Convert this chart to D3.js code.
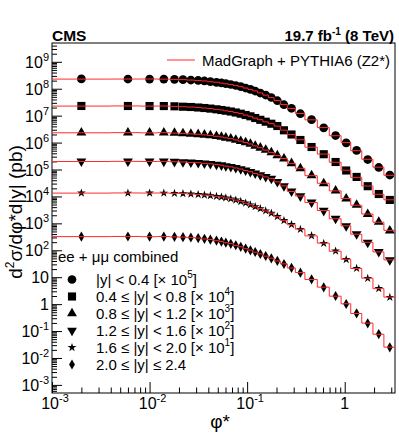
<!DOCTYPE html>
<html>
<head>
<meta charset="utf-8">
<script src="https://cdn.jsdelivr.net/npm/d3@7"></script>
<style>
  body { margin: 0; background: #fff; }
  text { font-family: "Liberation Sans", Arial, Helvetica, sans-serif; fill: #000; }
</style>
</head>
<body>
<script>
// phi* bin edges
const phiEdges = [0, 0.004, 0.008, 0.012, 0.016, 0.020, 0.024, 0.029, 0.034, 0.039, 0.045,
  0.052, 0.057, 0.064, 0.072, 0.081, 0.091, 0.102, 0.114, 0.128, 0.145, 0.165, 0.189,
  0.219, 0.258, 0.312, 0.391, 0.524, 0.695, 0.918, 1.153, 1.496, 1.947, 2.522, 3.277];

// measured cross sections (pb), before scaling
const dataY04 = [2310, 2295, 2290, 2280, 2245, 2170, 2110, 2025, 1940, 1830, 1735, 1635, 1540, 1437, 1320, 1190, 1065, 953, 824, 694, 585, 473, 359, 255, 188, 118, 70.8, 35.4, 18.3, 9.8, 5.1, 2.35, 1.19, 0.625];
const dataY08 = [2290, 2285, 2280, 2275, 2226, 2151, 2097, 2009, 1925, 1829, 1722, 1623, 1528, 1427, 1310, 1182, 1058, 946, 818, 702, 596, 502, 413, 286, 200, 125, 68.5, 37.0, 19.0, 9.2, 5.3, 2.4, 1.23, 0.74];
const dataY12 = [2335, 2330, 2325, 2320, 2269, 2192, 2118, 2030, 1945, 1831, 1726, 1612, 1505, 1393, 1268, 1134, 1007, 885, 759, 640, 530, 428, 331, 252, 170, 109, 59.8, 30.2, 16.4, 8.2, 4.8, 2.18, 1.12, 0.54];
const dataY16 = [1999, 1995, 2000, 1990, 1948, 1899, 1835, 1774, 1699, 1614, 1533, 1444, 1349, 1249, 1147, 1035, 926, 821, 722, 625, 535, 463, 352, 244, 155, 102, 60.4, 29.5, 15.1, 7.96, 4.02, 1.94, 0.884, 0.435];
const dataY20 = [1339, 1335, 1340, 1330, 1306, 1272, 1230, 1178, 1129, 1072, 1010, 951, 888, 816, 736, 653, 569, 488, 418, 353, 292, 238, 179.5, 127.5, 90.5, 60.0, 34.7, 18.1, 9.38, 4.54, 2.14, 0.908, 0.380, 0.179];
const dataY24 = [324, 325, 322, 323, 316, 308, 298, 283, 266, 249, 230, 211, 192, 174, 154, 134, 116, 99.6, 86.2, 72.6, 61.2, 50.2, 40.6, 30.9, 22.3, 14.7, 8.34, 4.21, 2.00, 1.01, 0.455, 0.194, 0.0775, 0.0248];

// MadGraph + PYTHIA6 prediction (pb), before scaling
const mcY04 = [2280, 2290, 2300, 2270, 2230, 2180, 2100, 2010, 1950, 1820, 1740, 1620, 1530, 1445, 1310, 1200, 1060, 945, 830, 700, 580, 470, 362, 258, 186, 120, 70, 36, 18.0, 10.0, 5.0, 2.4, 1.22, 0.61];
const mcY08 = [2270, 2295, 2265, 2280, 2210, 2160, 2085, 2020, 1915, 1840, 1710, 1630, 1515, 1435, 1300, 1190, 1050, 952, 812, 708, 590, 505, 410, 290, 198, 127, 67.5, 37.5, 18.6, 9.4, 5.1, 2.45, 1.2, 0.75];
const mcY12 = [2310, 2340, 2300, 2330, 2255, 2200, 2105, 2040, 1930, 1845, 1715, 1620, 1495, 1400, 1260, 1140, 1000, 890, 752, 645, 525, 432, 328, 255, 168, 111, 59, 30.8, 16.1, 8.4, 4.7, 2.22, 1.1, 0.55];
const mcY16 = [1985, 2010, 1990, 2005, 1935, 1910, 1825, 1785, 1690, 1625, 1520, 1455, 1340, 1258, 1140, 1042, 918, 828, 715, 630, 530, 468, 348, 247, 153, 104, 59.5, 30.0, 14.8, 8.1, 3.95, 1.98, 0.87, 0.44];
const mcY20 = [1330, 1345, 1335, 1342, 1298, 1280, 1222, 1186, 1120, 1080, 1003, 958, 880, 822, 730, 660, 562, 494, 412, 357, 288, 241, 177, 129, 89, 61, 34.2, 18.4, 9.2, 4.62, 2.1, 0.92, 0.375, 0.182];
const mcY24 = [322, 326, 320, 325, 313, 310, 295, 285, 263, 251, 227, 213, 190, 176, 152, 135, 114, 101, 85, 73.5, 60.5, 50.8, 40, 31.3, 22, 14.9, 8.2, 4.28, 1.97, 1.03, 0.448, 0.197, 0.076, 0.0252];

const scaleFactors = [1e5, 1e4, 1e3, 1e2, 10, 1];
const markerNames = ["circle", "square", "triangle", "triangleDown", "star", "diamond"];
const legendLabels = [
  ["|y| < 0.4 [× 10", "5", "]"],
  ["0.4 ≤ |y| < 0.8 [× 10", "4", "]"],
  ["0.8 ≤ |y| < 1.2 [× 10", "3", "]"],
  ["1.2 ≤ |y| < 1.6 [× 10", "2", "]"],
  ["1.6 ≤ |y| < 2.0 [× 10", "1", "]"],
  ["2.0 ≤ |y| ≤ 2.4", "", ""]
];
const yExponents = [-3, -2, -1, 0, 1, 2, 3, 4, 5, 6, 7, 8, 9];
const xExponents = [-3, -2, -1, 0];

const allData = [dataY04, dataY08, dataY12, dataY16, dataY20, dataY24];
const allMC = [mcY04, mcY08, mcY12, mcY16, mcY20, mcY24];

// layout
const w = 399, h = 437;
const pLeft = 52, pRight = 395, pTop = 43, pBottom = 393;

const svg = d3.select("body").append("svg")
  .attr("width", w).attr("height", h);

const x = d3.scaleLog().domain([1e-3, 3.277]).range([pLeft, pRight]);
const y = d3.scaleLog().domain([5e-4, 5e9]).range([pBottom, pTop]);

// frame
svg.append("rect")
  .attr("x", pLeft).attr("y", pTop)
  .attr("width", pRight - pLeft).attr("height", pBottom - pTop)
  .attr("fill", "none").attr("stroke", "#000").attr("stroke-width", 1);

// minor tick values
const yMinor = [];
yExponents.concat([-4]).forEach(e => {
  for (let k = 2; k <= 9; k++) {
    const v = k * Math.pow(10, e);
    if (v > 5e-4 && v < 5e9) yMinor.push(v);
  }
});
const xMinor = [];
xExponents.forEach(e => {
  for (let k = 2; k <= 9; k++) {
    const v = k * Math.pow(10, e);
    if (v < 3.277) xMinor.push(v);
  }
});

// Y axis ticks (inside)
svg.append("g").attr("class", "y-major")
  .attr("transform", `translate(${pLeft},0)`)
  .call(d3.axisLeft(y).tickValues(yExponents.map(e => Math.pow(10, e))).tickSize(-10).tickFormat(""));
svg.append("g").attr("class", "y-minor")
  .attr("transform", `translate(${pLeft},0)`)
  .call(d3.axisLeft(y).tickValues(yMinor).tickSize(-5).tickFormat(""));

// X axis ticks (inside)
svg.append("g").attr("class", "x-major")
  .attr("transform", `translate(0,${pBottom})`)
  .call(d3.axisBottom(x).tickValues(xExponents.map(e => Math.pow(10, e))).tickSize(-11).tickFormat(""));
svg.append("g").attr("class", "x-minor")
  .attr("transform", `translate(0,${pBottom})`)
  .call(d3.axisBottom(x).tickValues(xMinor).tickSize(-5.5).tickFormat(""));

svg.selectAll(".domain").remove();
svg.selectAll(".tick line").attr("stroke", "#000").attr("stroke-width", 1);

// power-of-ten label helper
function powLabel(sel, e) {
  if (e === 0) { sel.text("1"); return; }
  if (e === 1) { sel.text("10"); return; }
  sel.append("tspan").text("10");
  sel.append("tspan").attr("dy", -7).attr("font-size", "11px").text(e);
}

// Y tick labels
yExponents.forEach(e => {
  const t = svg.append("text")
    .attr("x", 49).attr("y", y(Math.pow(10, e)) + 6)
    .attr("text-anchor", "end").attr("font-size", "16px");
  powLabel(t, e);
});

// X tick labels
xExponents.forEach(e => {
  const t = svg.append("text")
    .attr("x", x(Math.pow(10, e)) + (e === 0 ? 0 : 3)).attr("y", 409)
    .attr("text-anchor", "middle").attr("font-size", "16px");
  powLabel(t, e);
});

// axis titles
svg.append("text")
  .attr("x", 220).attr("y", 428)
  .attr("text-anchor", "middle").attr("font-size", "19px")
  .text("φ*");

const yt = svg.append("text")
  .attr("transform", "translate(22,212) rotate(-90)")
  .attr("text-anchor", "middle").attr("font-size", "19px");
yt.append("tspan").text("d");
yt.append("tspan").attr("dy", -8).attr("font-size", "12px").text("2");
yt.append("tspan").attr("dy", 8).text("σ/dφ*d|y| (pb)");

// header
svg.append("text")
  .attr("x", 52).attr("y", 41)
  .attr("font-size", "15.5px").attr("font-weight", "bold")
  .text("CMS");
const lumi = svg.append("text")
  .attr("x", 394).attr("y", 41)
  .attr("text-anchor", "end").attr("font-size", "15px").attr("font-weight", "bold");
lumi.append("tspan").text("19.7 fb");
lumi.append("tspan").attr("dy", -6).attr("font-size", "10px").text("-1");
lumi.append("tspan").attr("dy", 6).text(" (8 TeV)");

// marker shapes
function markerPath(name) {
  switch (name) {
    case "circle": return d3.symbol(d3.symbolCircle, 60)();
    case "square": return d3.symbol(d3.symbolSquare, 66)();
    case "triangle": return d3.symbol(d3.symbolTriangle, 42)();
    case "triangleDown": return d3.symbol(d3.symbolTriangle, 42)();
    case "star": return d3.symbol(d3.symbolStar, 24)();
    case "diamond": return d3.symbol(d3.symbolDiamond, 30)();
  }
}
function markerTransform(name, px, py) {
  return name === "triangleDown"
    ? `translate(${px},${py}) rotate(180)`
    : `translate(${px},${py})`;
}

const centers = d3.range(phiEdges.length - 1).map(i => (phiEdges[i] + phiEdges[i + 1]) / 2);

// data markers
allData.forEach((series, s) => {
  svg.append("g").selectAll("path")
    .data(series)
    .enter().append("path")
    .attr("d", markerPath(markerNames[s]))
    .attr("transform", (d, i) => markerTransform(markerNames[s], x(centers[i]), y(d * scaleFactors[s])))
    .attr("fill", "#000");
});

// MC step histograms
allMC.forEach((series, s) => {
  const pts = [];
  series.forEach((v, i) => {
    const lo = Math.max(phiEdges[i], 1e-3);
    pts.push([x(lo), y(v * scaleFactors[s])]);
    pts.push([x(phiEdges[i + 1]), y(v * scaleFactors[s])]);
  });
  svg.append("path")
    .attr("d", d3.line()(pts))
    .attr("fill", "none")
    .attr("stroke", "#ff2a2a")
    .attr("stroke-width", 1);
});

// top legend
svg.append("line")
  .attr("x1", 167).attr("x2", 195).attr("y1", 60).attr("y2", 60)
  .attr("stroke", "#ff2a2a").attr("stroke-width", 1);
svg.append("text")
  .attr("x", 202).attr("y", 66)
  .attr("font-size", "15px")
  .text("MadGraph + PYTHIA6 (Z2*)");

// data legend
svg.append("text")
  .attr("x", 58).attr("y", 262)
  .attr("font-size", "15px")
  .text("ee + μμ combined");

legendLabels.forEach((lab, i) => {
  const ry = 279.5 + i * 17;
  svg.append("path")
    .attr("d", markerPath(markerNames[i]))
    .attr("transform", markerTransform(markerNames[i], 72, ry))
    .attr("fill", "#000");
  const t = svg.append("text")
    .attr("x", 96).attr("y", ry + 5.5)
    .attr("font-size", "15px");
  t.append("tspan").text(lab[0]);
  if (lab[1]) {
    t.append("tspan").attr("dy", -7).attr("font-size", "10px").text(lab[1]);
    t.append("tspan").attr("dy", 7).text(lab[2]);
  }
});
</script>
</body>
</html>
